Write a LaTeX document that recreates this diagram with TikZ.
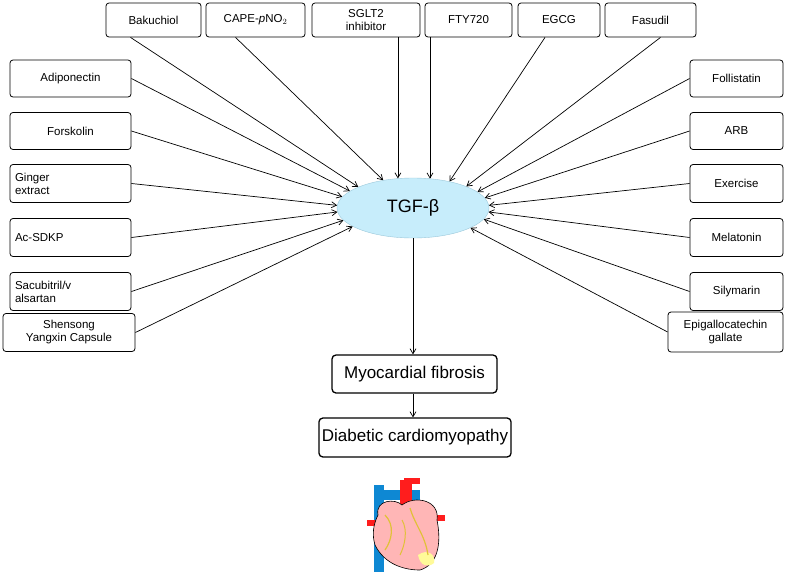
\documentclass[tikz,border=0pt]{standalone}
\usepackage{fontspec}
\setmainfont{Liberation Sans}
\usetikzlibrary{shapes.geometric,arrows.meta}
\begin{document}
\begin{tikzpicture}[x=1pt,y=-1pt,
  box/.style={draw,line width=0.8pt,rounded corners=3pt,align=center,font=\fontsize{11.5}{13}\selectfont,inner sep=2pt},
  big/.style={draw,line width=1.3pt,rounded corners=4pt,font=\fontsize{17}{19}\selectfont,inner sep=3pt},
  arr/.style={-{Straight Barb[length=5pt,width=6pt]},line width=0.7pt}]
\useasboundingbox (0,0) rectangle (797,573);
% top
\node[box,minimum width=95,minimum height=34] (bak) at (153.5,20) {Bakuchiol};
\node[box,minimum width=99,minimum height=34] (cape) at (255.5,20) {CAPE-\textit{p}NO$_2$};
\node[box,minimum width=108,minimum height=34] (sglt) at (366,20) {SGLT2\\inhibitor};
\node[box,minimum width=87,minimum height=34] (fty) at (468.5,20) {FTY720};
\node[box,minimum width=82,minimum height=34] (egcg) at (559,20) {EGCG};
\node[box,minimum width=91,minimum height=34] (fas) at (650.5,20) {Fasudil};
% left
\node[box,minimum width=121,minimum height=37] (adi) at (70.5,78.5) {Adiponectin};
\node[box,minimum width=121,minimum height=37] (for) at (70.5,131) {Forskolin};
\node[box,minimum width=121,minimum height=38,align=left,text width=111] (gin) at (70.5,183.5) {Ginger\\extract};
\node[box,minimum width=121,minimum height=38,align=left,text width=111] (ac) at (70.5,237.5) {Ac-SDKP};
\node[box,minimum width=121,minimum height=38,align=left,text width=111] (sac) at (70.5,291.5) {Sacubitril/v\\alsartan};
\node[box,minimum width=132,minimum height=38] (she) at (69,332.5) {Shensong\\Yangxin Capsule};
% right
\node[box,minimum width=93,minimum height=37] (fol) at (736.5,78.5) {Follistatin};
\node[box,minimum width=93,minimum height=37] (arb) at (736.5,131) {ARB};
\node[box,minimum width=93,minimum height=38] (exe) at (736.5,183.5) {Exercise};
\node[box,minimum width=93,minimum height=38] (mel) at (736.5,237.5) {Melatonin};
\node[box,minimum width=93,minimum height=38] (sil) at (736.5,291.5) {Silymarin};
\node[box,minimum width=115,minimum height=40] (epi) at (725.5,332) {Epigallocatechin\\gallate};
% center
\node[ellipse,draw=cyan!50!gray!60,fill=cyan!22!white,minimum width=152,minimum height=60,font=\fontsize{18}{20}\selectfont] (tgf) at (413,208) {TGF-β};
\node[big,minimum width=165,minimum height=38] (myo) at (414.5,374) {Myocardial fibrosis};
\node[big,minimum width=188,minimum height=39] (dcm) at (415,437.5) {Diabetic cardiomyopathy};
% arrows top
\draw[arr] ([xshift=-23]bak.south) -- (tgf.159);
\draw[arr] ([xshift=-20]cape.south) -- (tgf.137);
\draw[arr] (tgf.117 |- sglt.south) -- (tgf.117);
\draw[arr] (tgf.60 |- fty.south) -- (tgf.60);
\draw[arr] ([xshift=-14]egcg.south) -- (tgf.36);
\draw[arr] ([xshift=10]fas.south) -- (tgf.22);
% left
\draw[arr] (adi.east) -- (tgf.165);
\draw[arr] (for.east) -- (tgf.171);
\draw[arr] (gin.east) -- (tgf.178);
\draw[arr] (ac.east) -- (tgf.183);
\draw[arr] (sac.east) -- (tgf.190);
\draw[arr] (she.east) -- (tgf.197);
% right
\draw[arr] (fol.west) -- (tgf.14);
\draw[arr] (arb.west) -- (tgf.8);
\draw[arr] (exe.west) -- (tgf.2);
\draw[arr] (mel.west) -- (tgf.-3);
\draw[arr] (sil.west) -- (tgf.-9);
\draw[arr] (epi.west) -- (tgf.-19);
% down
\draw[arr] (tgf.south) -- (myo.north -| tgf.south);
\draw[arr] (myo.south -| tgf.south) -- (dcm.north -| tgf.south);
% heart
\fill[cyan!70!blue] (374,485) rectangle (384,572);
\fill[cyan!70!blue] (384,490) rectangle (420,500);
\fill[red!85!pink] (400,480) rectangle (412,505);
\fill[red!85!pink] (404,478) -- (420,478) -- (420,484) -- (404,484) -- cycle;
\fill[red!85!pink] (367,520) rectangle (378,526);
\fill[red!85!pink] (437,515) rectangle (445,521);
\draw[fill=pink!70!red!60,line width=0.6pt] (378,515) .. controls (375,500) and (395,498) .. (402,505)
  .. controls (415,495) and (440,500) .. (437,520)
  .. controls (442,545) and (437,565) .. (420,570)
  .. controls (405,570) and (385,565) .. (375,545)
  .. controls (372,535) and (373,525) .. cycle;
\fill[yellow!40] (418,555) .. controls (428,548) and (436,555) .. (434,563) .. controls (428,568) and (420,566) .. cycle;
\draw[yellow!50!brown,line width=1.2pt] (385,515) .. controls (395,525) and (392,540) .. (385,550);
\draw[yellow!50!brown,line width=1.2pt] (410,508) .. controls (415,525) and (425,535) .. (428,555);
\draw[yellow!50!brown,line width=1pt] (402,520) .. controls (408,530) and (405,545) .. (400,555);
\end{tikzpicture}
\end{document}
